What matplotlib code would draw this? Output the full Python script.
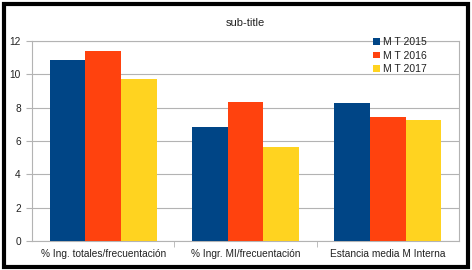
import matplotlib
matplotlib.use("Agg")
import matplotlib.pyplot as plt
import numpy as np
from matplotlib.patches import Rectangle

categories = ["% Ing. totales/frecuentación", "% Ingr. MI/frecuentación", "Estancia media M Interna"]
series_names = ["M T 2015", "M T 2016", "M T 2017"]
v2015 = [10.85, 6.85, 8.27]
v2016 = [11.4, 8.32, 7.45]
v2017 = [9.7, 5.64, 7.25]
colors = ["#004586", "#ff420e", "#ffd320"]
yticks = [0, 2, 4, 6, 8, 10, 12]

plt.rcParams['font.family'] = ['Liberation Sans', 'DejaVu Sans']

fig = plt.figure(figsize=(4.72, 2.70), dpi=100)
ax = fig.add_axes([32/472, 1 - 241/270, (459-32)/472, (241-41)/270])

x = np.arange(len(categories))
w = 0.25
for i, (vals, name, c) in enumerate(zip([v2015, v2016, v2017], series_names, colors)):
    ax.bar(x + (i - 1) * w, vals, width=w, color=c, label=name, zorder=3)

ax.set_xlim(-0.5, len(categories) - 0.5)
ax.set_ylim(0, 12)
ax.set_yticks(yticks)
ax.set_yticklabels([str(t) for t in yticks], fontsize=7.3, color="#222222")
ax.set_xticks(x)
ax.set_xticklabels(categories, fontsize=7.3, color="#222222")
ax.tick_params(axis='x', length=0, pad=6)
ax.tick_params(axis='y', length=4, color="#b3b3b3", pad=4)
ax.set_xticks([0.5, 1.5], minor=True)
ax.tick_params(axis='x', which='minor', length=4, color="#b3b3b3")
ax.grid(axis='y', color="#b3b3b3", linewidth=0.8, zorder=0)
for s in ax.spines.values():
    s.set_color("#b3b3b3")
    s.set_linewidth(0.8)

ax.set_title("sub-title", fontsize=8, color="#222222", pad=11)

leg = ax.legend(loc='upper left', bbox_to_anchor=(0.79, 1.04), frameon=False,
                fontsize=7.5, handlelength=0.6, handleheight=0.6, handletextpad=0.3,
                labelspacing=0.35, borderaxespad=0)
for t in leg.get_texts():
    t.set_color("#222222")

fig.patches.append(Rectangle((3.5/472, 3.5/270), 1 - 7.5/472, 1 - 7.5/270,
                             transform=fig.transFigure, fill=False,
                             edgecolor="black", linewidth=3, zorder=10))

fig.savefig("out.png", dpi=100)
